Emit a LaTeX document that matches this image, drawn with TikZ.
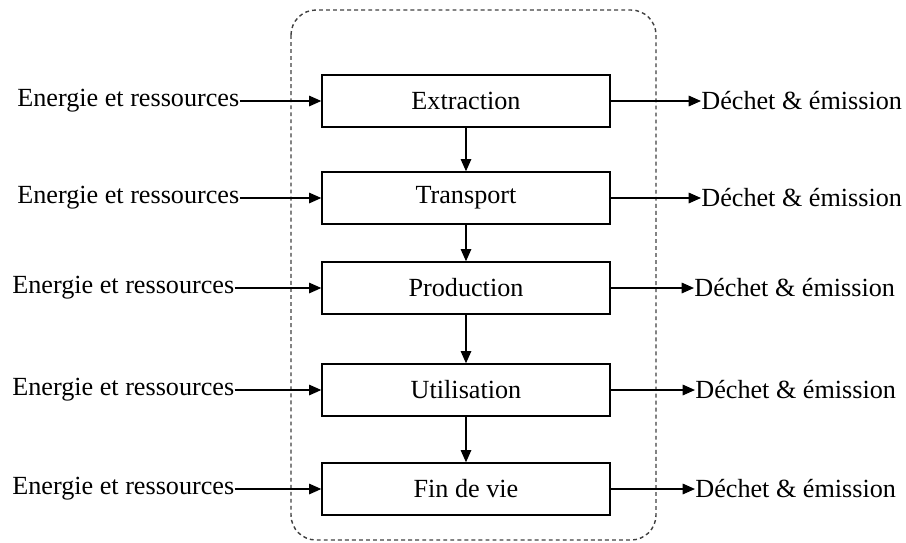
\documentclass[tikz,border=0pt]{standalone}
\usepackage{fontspec}
\setmainfont{Liberation Serif}
\usetikzlibrary{arrows.meta}
\begin{document}
\begin{tikzpicture}[x=0.02cm, y=-0.02cm]
    % Definition des styles
    \tikzset{etape/.style={draw, line width=0.8pt, minimum width=5.76cm, minimum height=1.04cm, inner sep=0pt, font=\fontsize{14.9}{18}\selectfont}}
    \tikzstyle{flux}=[-{Triangle[length=7pt, width=6pt]}, line width=0.8pt]
    \tikzstyle{texte}=[inner sep=0pt, anchor=west, font=\fontsize{14.9}{18}\selectfont]
    \tikzstyle{cadre}=[draw=black!75, line width=0.8pt, dash pattern=on 2.2pt off 1.8pt, rounded corners=0.5cm]

    \useasboundingbox (0,0) rectangle (906,542);

    % Cadre du cycle de vie
    \draw[cadre] (291,10) rectangle (656,540);

    % Etapes du cycle de vie
    \node[etape] (extraction) at (466,101) {Extraction};
    \node[etape] (transport) at (466,198) {Transport};
    \node[etape] (production) at (466,288) {Production};
    \node[etape] (utilisation) at (466,390) {Utilisation};
    \node[etape] (findevie) at (466,489) {Fin de vie};

    % Entrees
    \node[texte] (entree_1) at (17,101) {Energie et ressources};
    \node[texte] (entree_2) at (17,198) {Energie et ressources};
    \node[texte] (entree_3) at (12,288) {Energie et ressources};
    \node[texte] (entree_4) at (12,390) {Energie et ressources};
    \node[texte] (entree_5) at (12,489) {Energie et ressources};

    % Sorties
    \node[texte] (sortie_1) at (701,101) {Déchet \& émission};
    \node[texte] (sortie_2) at (701,198) {Déchet \& émission};
    \node[texte] (sortie_3) at (694,288) {Déchet \& émission};
    \node[texte] (sortie_4) at (695,390) {Déchet \& émission};
    \node[texte] (sortie_5) at (695,489) {Déchet \& émission};

    % Enchainement des etapes
    \draw[flux] (extraction) -- (transport);
    \draw[flux] (transport) -- (production);
    \draw[flux] (production) -- (utilisation);
    \draw[flux] (utilisation) -- (findevie);

    % Fleches entrees / sorties
    \draw[flux] (entree_1.east) -- (extraction.west);
    \draw[flux] (entree_2.east) -- (transport.west);
    \draw[flux] (entree_3.east) -- (production.west);
    \draw[flux] (entree_4.east) -- (utilisation.west);
    \draw[flux] (entree_5.east) -- (findevie.west);

    \draw[flux] (extraction.east) -- (sortie_1.west);
    \draw[flux] (transport.east) -- (sortie_2.west);
    \draw[flux] (production.east) -- (sortie_3.west);
    \draw[flux] (utilisation.east) -- (sortie_4.west);
    \draw[flux] (findevie.east) -- (sortie_5.west);
\end{tikzpicture}
\end{document}
